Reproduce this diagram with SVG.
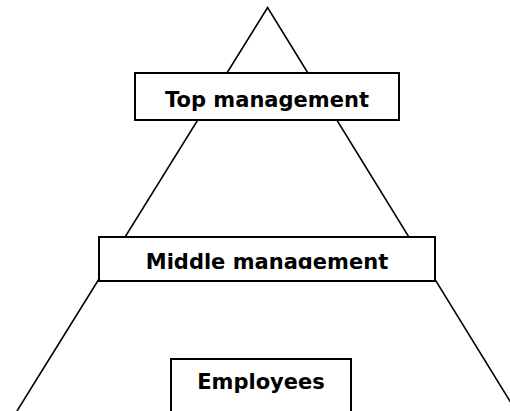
<svg xmlns="http://www.w3.org/2000/svg" width="510" height="411" viewBox="0 0 510 411">
<style>
.box{fill:#fff;stroke:#000;stroke-width:2}
.lbl{font-family:"DejaVu Sans",Verdana,sans-serif;font-weight:bold;font-size:21px;fill:#000;text-anchor:middle}
.edge{fill:none;stroke:#000;stroke-width:1.6}
</style>
<defs>
<clipPath id="midclip"><rect x="99" y="237" width="336" height="32"/></clipPath>
</defs>
<rect width="510" height="411" fill="#fff"/>
<g id="connectors">
<path class="edge" d="M17,411 L267.6,7.5 L516,411"/>
</g>
<g id="top">
<rect class="box" x="135" y="73" width="264" height="47"/>
<text class="lbl" x="267" y="107">Top management</text>
</g>
<g id="middle">
<rect class="box" x="99" y="237" width="336" height="44"/>
<text class="lbl" x="267" y="268.5" clip-path="url(#midclip)">Middle management</text>
</g>
<g id="employees">
<rect class="box" x="171" y="359" width="180" height="60"/>
<text class="lbl" x="261" y="389">Employees</text>
</g>
</svg>
